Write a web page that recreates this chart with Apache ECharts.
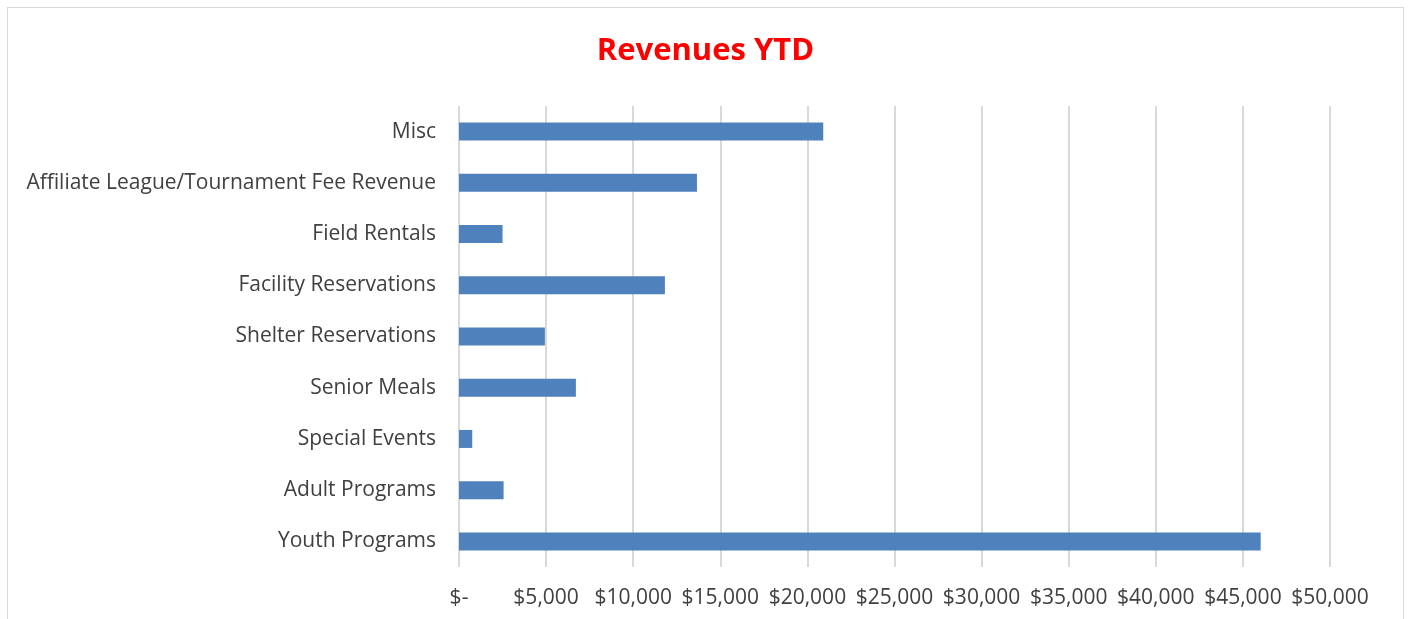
<!DOCTYPE html>
<html>
<head>
<meta charset="utf-8">
<script src="https://cdn.jsdelivr.net/npm/echarts@6/dist/echarts.min.js"></script>
<style>
  html, body { margin: 0; padding: 0; background: #fff; }
  #frame {
    position: absolute; left: 7px; top: 7px; width: 1397px; height: 640px;
    border: 1px solid #d9d9d9; box-sizing: border-box;
  }
  #main { position: absolute; left: 0; top: 0; width: 1411px; height: 619px; }
</style>
</head>
<body>
<div id="frame"></div>
<div id="main"></div>
<script>
  // categories listed bottom to top, like the picture
  var categories = ['Youth Programs', 'Adult Programs', 'Special Events', 'Senior Meals',
    'Shelter Reservations', 'Facility Reservations', 'Field Rentals',
    'Affiliate League/Tournament Fee Revenue', 'Misc']
  var revenues = [46020, 2560, 760, 6710, 4930, 11820, 2500, 13660, 20910]
  var tickStep = 5000
  var axisMax = 50000

  function money(v) {
    if (v === 0) return '$-'
    return '$' + v.toLocaleString('en-US')
  }

  var chart = echarts.init(document.getElementById('main'))
  chart.setOption({
    animation: false,
    title: {
      text: 'Revenues YTD',
      left: 'center',
      top: 31,
      textStyle: {
        color: '#ff0000',
        fontFamily: 'Open Sans',
        fontWeight: 'bold',
        fontSize: 31
      }
    },
    grid: {
      left: 459,
      right: 81,
      top: 106,
      bottom: 52
    },
    xAxis: {
      type: 'value',
      min: 0,
      max: axisMax,
      interval: tickStep,
      axisLine: { show: false },
      axisTick: { show: false },
      splitLine: { lineStyle: { color: '#d9d9d9', width: 2 } },
      axisLabel: {
        formatter: money,
        color: '#404040',
        fontFamily: 'Open Sans',
        fontSize: 21,
        margin: 21
      }
    },
    yAxis: {
      type: 'category',
      data: categories,
      axisLine: { show: false },
      axisTick: { show: false },
      axisLabel: {
        color: '#404040',
        fontFamily: 'Open Sans',
        fontSize: 21,
        margin: 23
      }
    },
    series: [
      {
        type: 'bar',
        data: revenues,
        barWidth: 18,
        itemStyle: { color: '#4f81bd' }
      }
    ]
  })
</script>
</body>
</html>
